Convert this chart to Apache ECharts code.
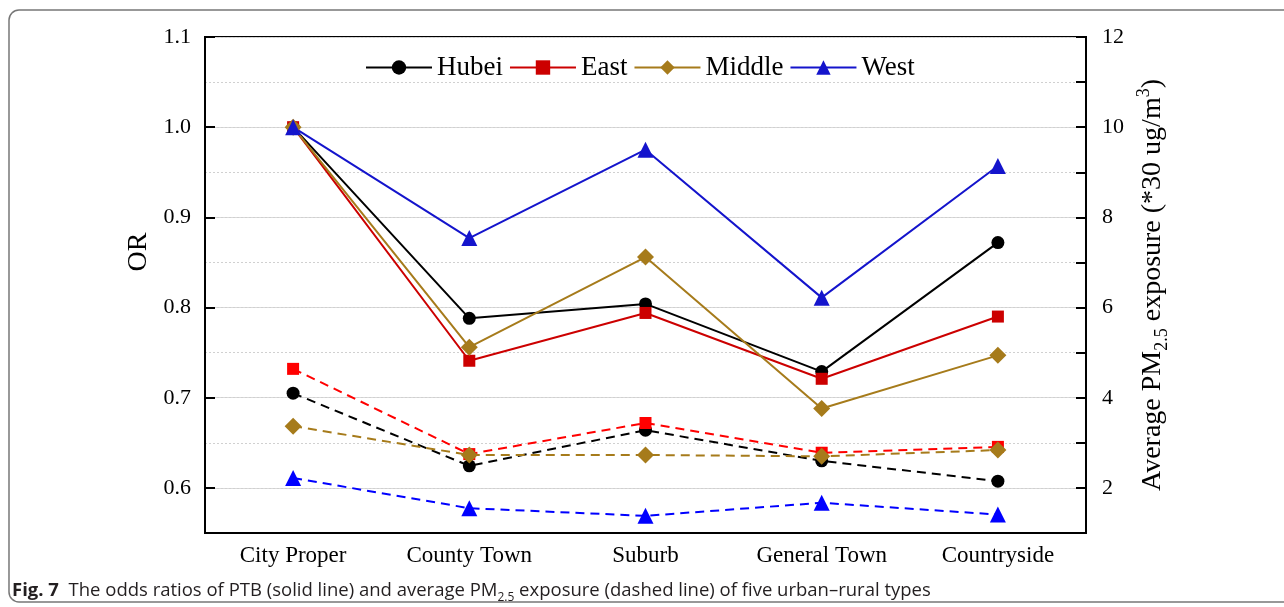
<!DOCTYPE html>
<html>
<head>
<meta charset="utf-8">
<script src="https://cdn.jsdelivr.net/npm/echarts@6/dist/echarts.min.js"></script>
<style>
  html, body { margin: 0; padding: 0; background: #fff; }
  #chart { width: 1284px; height: 607px; }
</style>
</head>
<body>
<div id="chart"></div>
<script>
const categories = ['City Proper', 'County Town', 'Suburb', 'General Town', 'Countryside'];

// odds ratios (solid, left axis)
const orHubei  = [1.0, 0.788, 0.804, 0.729, 0.872];
const orEast   = [1.0, 0.741, 0.794, 0.721, 0.790];
const orMiddle = [1.0, 0.756, 0.856, 0.688, 0.747];
const orWest   = [1.0, 0.877, 0.975, 0.811, 0.957];

// average PM2.5 exposure, *30 ug/m3 (dashed, right axis)
const pmHubei  = [4.10, 2.49, 3.28, 2.60, 2.15];
const pmEast   = [4.64, 2.75, 3.44, 2.78, 2.91];
const pmMiddle = [3.37, 2.73, 2.73, 2.70, 2.84];
const pmWest   = [2.22, 1.55, 1.38, 1.67, 1.41];

const serif = '"Liberation Serif", "DejaVu Serif", serif';

const groups = [
    { name: 'Hubei',  or: orHubei,  pm: pmHubei,  solid: '#000000', dash: '#000000', symbol: 'circle',   size: 13 },
    { name: 'East',   or: orEast,   pm: pmEast,   solid: '#cc0000', dash: '#ff0000', symbol: 'rect',     size: 12 },
    { name: 'Middle', or: orMiddle, pm: pmMiddle, solid: '#a67b1b', dash: '#a67b1b', symbol: 'diamond',  size: 17 },
    { name: 'West',   or: orWest,   pm: pmWest,   solid: '#1414cc', dash: '#0000ff', symbol: 'triangle', size: 16 }
];

const series = [];
groups.forEach(g => {
    series.push({
        name: g.name, type: 'line', yAxisIndex: 0, data: g.or,
        symbol: g.symbol, symbolSize: g.size,
        lineStyle: { color: g.solid, width: 2 },
        itemStyle: { color: g.solid },
        z: 3
    });
});
groups.forEach(g => {
    series.push({
        name: g.name, type: 'line', yAxisIndex: 1, data: g.pm,
        symbol: g.symbol, symbolSize: g.size,
        lineStyle: { color: g.dash, width: 2, type: [9, 6] },
        itemStyle: { color: g.dash },
        z: 2
    });
});

const myChart = echarts.init(document.getElementById('chart'));
const option = {
    animation: false,
    backgroundColor: '#fff',
    grid: { left: 205, right: 198, top: 37, bottom: 74, show: true, borderColor: '#000', borderWidth: 2 },
    legend: {
        data: groups.map(g => g.name),
        left: 360, top: 49,
        itemWidth: 66, itemHeight: 18, itemGap: 6,
        textStyle: { fontFamily: serif, fontSize: 27, color: '#000' }
    },
    xAxis: {
        type: 'category',
        data: categories,
        boundaryGap: true,
        axisLine: { lineStyle: { color: '#000', width: 2 } },
        axisTick: { alignWithLabel: true, length: 6, lineStyle: { color: '#000', width: 2 } },
        axisLabel: { fontFamily: serif, fontSize: 23, color: '#000', margin: 11 }
    },
    yAxis: [{
        type: 'value',
        min: 0.55, max: 1.1, splitNumber: 5,
        name: 'OR', nameLocation: 'middle', nameGap: 42,
        nameTextStyle: { fontFamily: serif, fontSize: 28, color: '#000', padding: [0, 0, 0, 66] },
        axisLine: { show: true, lineStyle: { color: '#000', width: 2 } },
        axisTick: { show: true, inside: true, length: 10, lineStyle: { color: '#000', width: 2 } },
        axisLabel: {
            fontFamily: serif, fontSize: 22, color: '#000', margin: 14,
            formatter: v => v < 0.58 ? '' : v.toFixed(1)
        },
        splitLine: { show: true, lineStyle: { color: '#d9d9d9', width: 1 } }
    }, {
        type: 'value',
        min: 1, max: 12, interval: 1,
        position: 'right',
        name: '{n|Average PM}{sub|2.5}{n| exposure (*30 ug/m}{sup|3}{n|)}',
        nameLocation: 'middle', nameGap: 46,
        nameTextStyle: {
            fontFamily: serif, fontSize: 28, color: '#000',
            rich: {
                n: { fontFamily: serif, fontSize: 28, color: '#000', lineHeight: 36 },
                sub: { fontFamily: serif, fontSize: 18, color: '#000', lineHeight: 18, verticalAlign: 'bottom' },
                sup: { fontFamily: serif, fontSize: 18, color: '#000', lineHeight: 18, verticalAlign: 'top' }
            }
        },
        axisLine: { show: true, lineStyle: { color: '#000', width: 2 } },
        axisTick: { show: true, inside: true, length: 10, lineStyle: { color: '#000', width: 2 } },
        axisLabel: {
            fontFamily: serif, fontSize: 22, color: '#000', margin: 16,
            formatter: v => v % 2 === 0 ? String(v) : ''
        },
        splitLine: { show: true, lineStyle: { color: '#d0d0d0', width: 1, type: [2, 2] } }
    }],
    series: series,
    graphic: [{
        type: 'rect',
        shape: { x: 9, y: 10, width: 1320, height: 592, r: 10 },
        style: { fill: 'none', stroke: '#777', lineWidth: 1.5 },
        silent: true
    }, {
        type: 'text',
        left: 12, top: 581,
        style: {
            text: '{b|Fig. 7}  The odds ratios of PTB (solid line) and average PM{s|2.5} exposure (dashed line) of five urban\u2013rural types',
            fontFamily: '"Open Sans", "Noto Sans", sans-serif',
            fontSize: 18.5, fill: '#231f20',
            rich: {
                b: { fontFamily: '"Open Sans", sans-serif', fontSize: 18.5, fontWeight: 'bold', fill: '#231f20' },
                s: { fontFamily: '"Open Sans", sans-serif', fontSize: 12, fill: '#231f20', verticalAlign: 'bottom', lineHeight: 26 }
            }
        }
    }]
};
myChart.setOption(option);
window.addEventListener('resize', () => myChart.resize());
</script>
</body>
</html>
